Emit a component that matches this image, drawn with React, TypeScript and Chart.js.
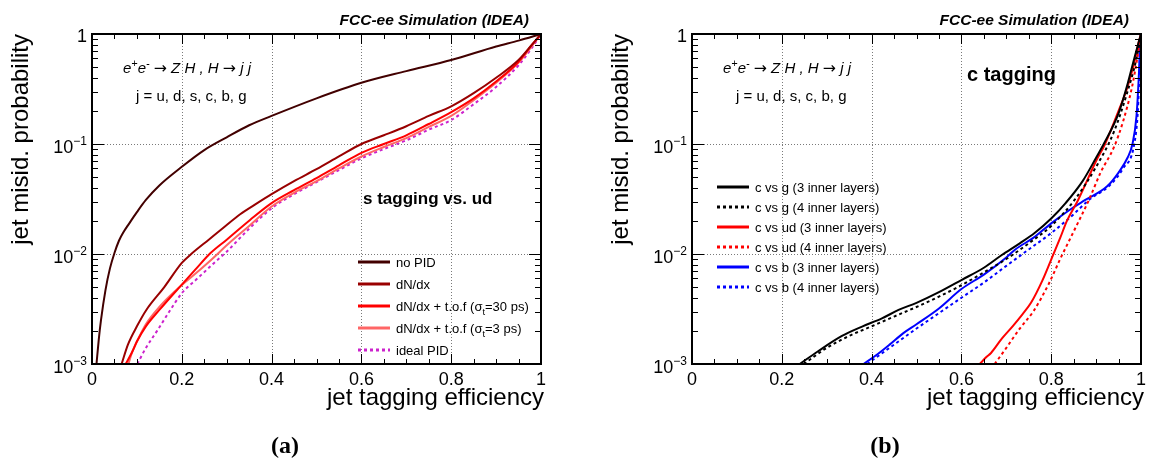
import React, { useEffect, useRef } from "react";
import { Chart, registerables } from "chart.js";
Chart.register(...registerables);

// ---------- axes ----------
const xTickValues = [0, 0.2, 0.4, 0.6, 0.8, 1];
const xTickLabels = ["0", "0.2", "0.4", "0.6", "0.8", "1"];
const yTickValues = [1, 0.1, 0.01, 0.001];
const yTickMantissa = ["1", "10", "10", "10"];
const yTickExponent = ["", "−1", "−2", "−3"];
const xTitle = "jet tagging efficiency";
const yTitle = "jet misid. probability";
const headerText = "FCC-ee Simulation (IDEA)";
const processText = "e^{+}e^{-} → Z H , H → j j";
const jetText = "j = u, d, s, c, b, g";

// ---------- panel (a): s tagging vs. ud ----------
const panelATitle = "s tagging vs. ud";
const panelACaption = "(a)";
const panelANames = ["no PID", "dN/dx", "dN/dx + t.o.f (σ_{t}=30 ps)", "dN/dx + t.o.f (σ_{t}=3 ps)", "ideal PID"];

const noPidEff = [0.01, 0.015, 0.02, 0.03, 0.04, 0.05, 0.06, 0.07, 0.08, 0.1, 0.12, 0.15, 0.2, 0.25, 0.3, 0.35, 0.4, 0.5, 0.6, 0.7, 0.8, 0.9, 0.95, 1.0];
const noPidMisid = [0.001, 0.00166, 0.0025, 0.0047, 0.0074, 0.0102, 0.0132, 0.0158, 0.0182, 0.024, 0.031, 0.042, 0.062, 0.088, 0.115, 0.148, 0.18, 0.26, 0.36, 0.46, 0.58, 0.77, 0.87, 1.0];

const dndxEff = [0.066, 0.08, 0.1, 0.121, 0.161, 0.2, 0.221, 0.26, 0.296, 0.33, 0.368, 0.4, 0.45, 0.5, 0.55, 0.6, 0.65, 0.7, 0.75, 0.8, 0.85, 0.9, 0.95, 0.98, 1.0];
const dndxMisid = [0.001, 0.0015, 0.0022, 0.0031, 0.005, 0.0083, 0.01, 0.0135, 0.0178, 0.023, 0.029, 0.035, 0.046, 0.059, 0.077, 0.1, 0.12, 0.145, 0.18, 0.22, 0.29, 0.4, 0.58, 0.8, 1.0];

const tof30Eff = [0.075, 0.09, 0.1, 0.12, 0.15, 0.193, 0.23, 0.264, 0.3, 0.352, 0.4, 0.45, 0.5, 0.55, 0.6, 0.65, 0.7, 0.75, 0.8, 0.85, 0.9, 0.95, 0.98, 1.0];
const tof30Misid = [0.001, 0.0013, 0.0016, 0.0022, 0.0031, 0.0049, 0.0072, 0.0102, 0.0135, 0.0204, 0.029, 0.038, 0.049, 0.064, 0.083, 0.1, 0.12, 0.152, 0.195, 0.26, 0.37, 0.56, 0.8, 1.0];

const tof3Eff = [0.081, 0.09, 0.1, 0.12, 0.15, 0.19, 0.23, 0.27, 0.3, 0.35, 0.4, 0.45, 0.5, 0.55, 0.6, 0.65, 0.7, 0.75, 0.8, 0.85, 0.9, 0.95, 0.98, 1.0];
const tof3Misid = [0.001, 0.0013, 0.0016, 0.0023, 0.0033, 0.0048, 0.0066, 0.0092, 0.012, 0.018, 0.027, 0.036, 0.046, 0.06, 0.077, 0.094, 0.113, 0.143, 0.18, 0.25, 0.36, 0.55, 0.78, 1.0];

const idealEff = [0.101, 0.12, 0.145, 0.17, 0.2, 0.235, 0.272, 0.3, 0.35, 0.4, 0.45, 0.5, 0.55, 0.6, 0.65, 0.7, 0.75, 0.8, 0.85, 0.9, 0.95, 0.98, 1.0];
const idealMisid = [0.001, 0.0014, 0.002, 0.0029, 0.0044, 0.006, 0.0083, 0.0105, 0.017, 0.026, 0.035, 0.045, 0.058, 0.074, 0.09, 0.108, 0.135, 0.165, 0.23, 0.33, 0.52, 0.75, 1.0];

// ---------- panel (b): c tagging ----------
const panelBTitle = "c tagging";
const panelBCaption = "(b)";
const panelBNames = [
  "c vs g (3 inner layers)",
  "c vs g (4 inner layers)",
  "c vs ud (3 inner layers)",
  "c vs ud (4 inner layers)",
  "c vs b (3 inner layers)",
  "c vs b (4 inner layers)",
];

const cg3Eff = [0.24, 0.28, 0.334, 0.38, 0.423, 0.46, 0.5, 0.55, 0.6, 0.65, 0.69, 0.73, 0.763, 0.8, 0.832, 0.87, 0.9, 0.917, 0.95, 0.97, 0.985, 1.0];
const cg3Misid = [0.001, 0.0013, 0.0018, 0.0022, 0.0026, 0.0031, 0.0036, 0.0045, 0.0058, 0.0075, 0.0098, 0.0125, 0.0155, 0.021, 0.029, 0.046, 0.075, 0.1, 0.19, 0.35, 0.6, 1.0];

const cg4Eff = [0.249, 0.3, 0.35, 0.4, 0.45, 0.5, 0.55, 0.6, 0.65, 0.7, 0.75, 0.8, 0.852, 0.9, 0.94, 0.97, 0.99, 1.0];
const cg4Misid = [0.001, 0.0014, 0.0018, 0.0022, 0.0027, 0.0033, 0.0041, 0.0052, 0.0068, 0.009, 0.0125, 0.018, 0.031, 0.062, 0.13, 0.3, 0.6, 1.0];

const cud3Eff = [0.641, 0.655, 0.666, 0.69, 0.714, 0.735, 0.755, 0.78, 0.8, 0.82, 0.835, 0.86, 0.9, 0.92, 0.95, 0.97, 0.985, 0.995, 1.0];
const cud3Misid = [0.001, 0.00115, 0.00126, 0.0017, 0.0022, 0.0028, 0.0036, 0.0057, 0.0089, 0.014, 0.02, 0.031, 0.07, 0.1, 0.2, 0.33, 0.55, 0.85, 1.0];

const cud4Eff = [0.674, 0.7, 0.73, 0.76, 0.795, 0.82, 0.85, 0.884, 0.91, 0.94, 0.96, 0.98, 0.99, 1.0];
const cud4Misid = [0.001, 0.0014, 0.0021, 0.003, 0.0054, 0.009, 0.016, 0.031, 0.055, 0.094, 0.16, 0.33, 0.55, 1.0];

const cb3Eff = [0.382, 0.41, 0.44, 0.47, 0.5, 0.55, 0.6, 0.65, 0.7, 0.72, 0.76, 0.8, 0.84, 0.876, 0.924, 0.95, 0.97, 0.981, 0.99, 0.995, 0.998, 1.0];
const cb3Misid = [0.001, 0.0012, 0.0015, 0.0019, 0.0023, 0.0032, 0.0048, 0.0065, 0.0093, 0.011, 0.014, 0.019, 0.025, 0.031, 0.041, 0.055, 0.075, 0.1, 0.18, 0.4, 0.8, 1.0];

const cb4Eff = [0.39, 0.45, 0.5, 0.55, 0.6, 0.65, 0.7, 0.75, 0.8, 0.85, 0.884, 0.93, 0.96, 0.985, 0.993, 0.997, 1.0];
const cb4Misid = [0.001, 0.0015, 0.0021, 0.0029, 0.004, 0.0055, 0.0078, 0.011, 0.0155, 0.023, 0.031, 0.042, 0.06, 0.1, 0.2, 0.5, 1.0];

// ---------- drawing helpers ----------
const SANS = "'Liberation Sans', Arial, Helvetica, sans-serif";
const SYMBOL = "'DejaVu Sans', 'Liberation Sans', sans-serif";
const SERIF = "'Liberation Serif', 'Times New Roman', serif";

type Part = { t: string; size: number; dy: number; family: string; plain?: boolean };

function parseRich(s: string, size: number): Part[] {
  const raw: Part[] = [];
  const re = /([_^])\{([^}]*)\}/g;
  let last = 0;
  let m: RegExpExecArray | null;
  while ((m = re.exec(s))) {
    if (m.index > last) raw.push({ t: s.slice(last, m.index), size, dy: 0, family: SANS });
    raw.push({ t: m[2], size: size * 0.72, dy: m[1] === "^" ? -size * 0.42 : size * 0.28, family: SANS });
    last = re.lastIndex;
  }
  if (last < s.length) raw.push({ t: s.slice(last), size, dy: 0, family: SANS });
  // arrows in a symbol-capable font, upright
  const parts: Part[] = [];
  raw.forEach((p) => {
    p.t.split(/(→)/).forEach((t) => {
      if (!t) return;
      if (t === "→") parts.push({ ...p, t, family: SYMBOL, size: p.size * 1.05, plain: true });
      else parts.push({ ...p, t });
    });
  });
  return parts;
}

function drawRich(ctx: CanvasRenderingContext2D, s: string, x: number, y: number, size: number, style: string, align: string) {
  const parts = parseRich(s, size);
  const fontOf = (p: Part) => `${p.plain ? "" : style} ${p.size}px ${p.family}`;
  let w = 0;
  for (const p of parts) {
    ctx.font = fontOf(p);
    w += ctx.measureText(p.t).width;
  }
  let cx = align === "left" ? x : align === "right" ? x - w : x - w / 2;
  ctx.textAlign = "left";
  for (const p of parts) {
    ctx.font = fontOf(p);
    ctx.fillText(p.t, cx, y + p.dy);
    cx += ctx.measureText(p.t).width;
  }
}

type Series = { name: string; eff: number[]; misid: number[]; color: string; dash: number[] };

type PanelCfg = {
  left: number;
  width: number;
  series: Series[];
  title: string;
  titleSize: number;
  titleX: number;
  titleY: number;
  caption: string;
  legendX: number;
  legendY: number;
  legendStep: number;
  legendSize: number;
};

const CANVAS_H = 463;
const AREA = { left: 92, right: 541, top: 34, bottom: 364 };

function makePlugin(cfg: PanelCfg) {
  return {
    id: "rootStyle",
    beforeDatasetsDraw(chart: any) {
      const ctx: CanvasRenderingContext2D = chart.ctx;
      const xs = chart.scales.x;
      const ys = chart.scales.y;
      const { left, right, top, bottom } = chart.chartArea;
      ctx.save();
      ctx.strokeStyle = "#7a7a7a";
      ctx.lineWidth = 1;
      ctx.setLineDash([1, 2]);
      xTickValues.forEach((v) => {
        if (v <= 0 || v >= 1) return;
        const px = Math.round(xs.getPixelForValue(v)) + 0.5;
        ctx.beginPath();
        ctx.moveTo(px, top);
        ctx.lineTo(px, bottom);
        ctx.stroke();
      });
      yTickValues.forEach((v) => {
        if (v >= 1 || v <= 0.001) return;
        const py = Math.round(ys.getPixelForValue(v)) + 0.5;
        ctx.beginPath();
        ctx.moveTo(left, py);
        ctx.lineTo(right, py);
        ctx.stroke();
      });
      ctx.restore();
    },
    afterDatasetsDraw(chart: any) {
      const ctx: CanvasRenderingContext2D = chart.ctx;
      const xs = chart.scales.x;
      const ys = chart.scales.y;
      const { left, right, top, bottom } = chart.chartArea;
      ctx.save();
      ctx.strokeStyle = "#000";
      ctx.lineWidth = 1;
      ctx.setLineDash([]);
      const seg = (x1: number, y1: number, x2: number, y2: number) => {
        ctx.beginPath();
        ctx.moveTo(x1, y1);
        ctx.lineTo(x2, y2);
        ctx.stroke();
      };
      for (let i = 0; i <= 20; i++) {
        const v = i * 0.05;
        const px = Math.round(xs.getPixelForValue(v)) + 0.5;
        const L = i % 4 === 0 ? 10 : 5;
        seg(px, bottom, px, bottom - L);
        seg(px, top, px, top + L);
      }
      for (let k = -3; k <= 0; k++) {
        const d = Math.pow(10, k);
        const py = Math.round(ys.getPixelForValue(d)) + 0.5;
        seg(left, py, left + 12, py);
        seg(right, py, right - 12, py);
        if (k < 0) {
          for (let m = 2; m <= 9; m++) {
            const q = Math.round(ys.getPixelForValue(m * d)) + 0.5;
            seg(left, q, left + 6, q);
            seg(right, q, right - 6, q);
          }
        }
      }
      ctx.lineWidth = 2;
      ctx.strokeRect(left, top, right - left, bottom - top);
      ctx.restore();
    },
    afterDraw(chart: any) {
      const ctx: CanvasRenderingContext2D = chart.ctx;
      const xs = chart.scales.x;
      const ys = chart.scales.y;
      const { left, right, top } = chart.chartArea;
      ctx.save();
      ctx.fillStyle = "#000";
      ctx.textBaseline = "alphabetic";
      xTickValues.forEach((v, i) => {
        ctx.font = `18px ${SANS}`;
        ctx.textAlign = "center";
        ctx.fillText(xTickLabels[i], xs.getPixelForValue(v), 385);
      });
      yTickValues.forEach((v, i) => {
        const py = ys.getPixelForValue(v);
        const exp = yTickExponent[i];
        ctx.textAlign = "right";
        if (!exp) {
          ctx.font = `18px ${SANS}`;
          ctx.fillText(yTickMantissa[i], left - 5, py + 8);
        } else {
          ctx.font = `12px ${SANS}`;
          const ew = ctx.measureText(exp).width;
          ctx.fillText(exp, left - 5, py + 1);
          ctx.font = `18px ${SANS}`;
          ctx.fillText(yTickMantissa[i], left - 5 - ew, py + 9);
        }
      });
      ctx.font = `24px ${SANS}`;
      ctx.textAlign = "right";
      ctx.fillText(xTitle, right + 3, 405);
      ctx.save();
      ctx.translate(28, top);
      ctx.rotate(-Math.PI / 2);
      ctx.textAlign = "right";
      ctx.fillText(yTitle, 0, 0);
      ctx.restore();
      ctx.font = `italic bold 15.5px ${SANS}`;
      ctx.textAlign = "right";
      ctx.fillText(headerText, 529, 25);
      drawRich(ctx, processText, 123, 73, 15, "italic", "left");
      ctx.font = `15px ${SANS}`;
      ctx.textAlign = "left";
      ctx.fillText(jetText, 136, 101);
      ctx.font = `bold ${cfg.titleSize}px ${SANS}`;
      ctx.textAlign = "left";
      ctx.fillText(cfg.title, cfg.titleX, cfg.titleY);
      cfg.series.forEach((s, i) => {
        const y = cfg.legendY + i * cfg.legendStep;
        ctx.save();
        ctx.strokeStyle = s.color;
        ctx.lineWidth = 3;
        ctx.setLineDash(s.dash);
        ctx.beginPath();
        ctx.moveTo(cfg.legendX, y);
        ctx.lineTo(cfg.legendX + 32, y);
        ctx.stroke();
        ctx.restore();
        ctx.fillStyle = "#000";
        drawRich(ctx, s.name, cfg.legendX + 38, y + 5, cfg.legendSize, "", "left");
      });
      ctx.font = `bold 24px ${SERIF}`;
      ctx.textAlign = "center";
      ctx.fillText(cfg.caption, 285, 453);
      ctx.restore();
    },
  };
}

function Panel({ cfg }: { cfg: PanelCfg }) {
  const ref = useRef<HTMLCanvasElement | null>(null);
  useEffect(() => {
    if (!ref.current) return;
    const datasets = cfg.series.map((s) => ({
      label: s.name,
      data: s.eff.map((x, i) => ({ x, y: s.misid[i] })),
      borderColor: s.color,
      backgroundColor: s.color,
      borderWidth: 2,
      borderDash: s.dash,
      fill: false,
      pointRadius: 0,
      cubicInterpolationMode: "monotone" as const,
    }));
    const chart = new Chart(ref.current, {
      type: "line",
      data: { datasets },
      options: {
        responsive: false,
        animation: false,
        devicePixelRatio: 1,
        layout: {
          padding: {
            left: AREA.left,
            right: cfg.width - AREA.right,
            top: AREA.top,
            bottom: CANVAS_H - AREA.bottom,
          },
        },
        plugins: { legend: { display: false }, tooltip: { enabled: false } },
        scales: {
          x: { type: "linear", min: 0, max: 1, display: false },
          y: { type: "logarithmic", min: 0.001, max: 1, display: false },
        },
      },
      plugins: [makePlugin(cfg)],
    } as any);
    return () => chart.destroy();
  }, [cfg]);
  return (
    <canvas
      ref={ref}
      width={cfg.width}
      height={CANVAS_H}
      style={{ position: "absolute", left: cfg.left, top: 0, width: cfg.width, height: CANVAS_H }}
    />
  );
}

const dotted = [3, 3];

const panelA: PanelCfg = {
  left: 0,
  width: 600,
  series: [
    { name: panelANames[0], eff: noPidEff, misid: noPidMisid, color: "#420000", dash: [] },
    { name: panelANames[1], eff: dndxEff, misid: dndxMisid, color: "#990000", dash: [] },
    { name: panelANames[2], eff: tof30Eff, misid: tof30Misid, color: "#ff0000", dash: [] },
    { name: panelANames[3], eff: tof3Eff, misid: tof3Misid, color: "#ff6666", dash: [] },
    { name: panelANames[4], eff: idealEff, misid: idealMisid, color: "#cc22cc", dash: dotted },
  ],
  title: panelATitle,
  titleSize: 17,
  titleX: 363,
  titleY: 204,
  caption: panelACaption,
  legendX: 358,
  legendY: 262,
  legendStep: 22,
  legendSize: 13,
};

const panelB: PanelCfg = {
  left: 600,
  width: 549,
  series: [
    { name: panelBNames[0], eff: cg3Eff, misid: cg3Misid, color: "#000000", dash: [] },
    { name: panelBNames[1], eff: cg4Eff, misid: cg4Misid, color: "#000000", dash: dotted },
    { name: panelBNames[2], eff: cud3Eff, misid: cud3Misid, color: "#ff0000", dash: [] },
    { name: panelBNames[3], eff: cud4Eff, misid: cud4Misid, color: "#ff0000", dash: dotted },
    { name: panelBNames[4], eff: cb3Eff, misid: cb3Misid, color: "#0000ff", dash: [] },
    { name: panelBNames[5], eff: cb4Eff, misid: cb4Misid, color: "#0000ff", dash: dotted },
  ],
  title: panelBTitle,
  titleSize: 20,
  titleX: 367,
  titleY: 81,
  caption: panelBCaption,
  legendX: 117,
  legendY: 187,
  legendStep: 20,
  legendSize: 13,
};

export default function App() {
  return (
    <div style={{ position: "fixed", left: 0, top: 0, width: 1149, height: 463, background: "#fff" }}>
      <Panel cfg={panelA} />
      <Panel cfg={panelB} />
    </div>
  );
}
